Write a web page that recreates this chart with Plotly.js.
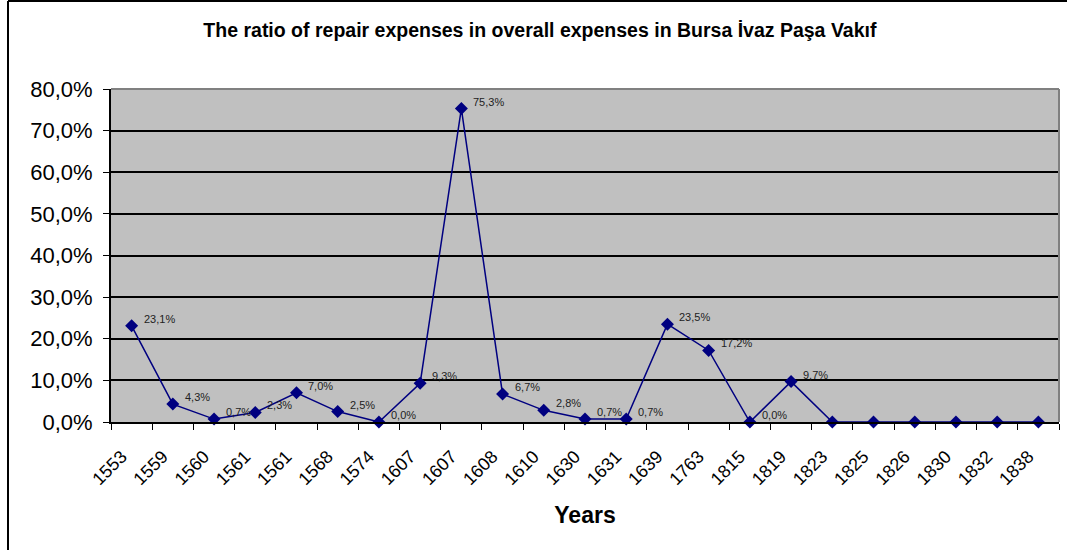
<!DOCTYPE html>
<html>
<head>
<meta charset="utf-8">
<script src="https://cdn.plot.ly/plotly-3.0.1.min.js"></script>
<style>html,body{margin:0;padding:0;background:#fff;}#chart{width:1067px;height:550px;}</style>
</head>
<body>
<div id="chart"></div>
<script>
const years = ["1553","1559","1560","1561","1561","1568","1574","1607","1607","1608","1610","1630","1631","1639","1763","1815","1819","1823","1825","1826","1830","1832","1838"];
const ratios = [23.1,4.3,0.7,2.3,7.0,2.5,0.0,9.3,75.3,6.7,2.8,0.7,0.7,23.5,17.2,0.0,9.7,0,0,0,0,0,0];
const labelCount = 17; // data labels shown for the first 17 points
const yTicks = [0,10,20,30,40,50,60,70,80];

const idx = years.map((_, i) => i);
const fmt = v => v.toFixed(1).replace('.', ',') + '%';
const boundaries = [];
for (let i = 0; i <= years.length; i++) boundaries.push(i - 0.5);

const trace = {
  x: idx, y: ratios, type: 'scatter', mode: 'lines+markers',
  line: {color: '#000080', width: 1.5},
  marker: {symbol: 'diamond', size: 10, color: '#000080'},
  cliponaxis: false, hoverinfo: 'none'
};

const annotations = ratios.slice(0, labelCount).map((v, i) => ({
  x: i, y: v, xref: 'x', yref: 'y', text: fmt(v), showarrow: false,
  xanchor: 'left', yanchor: 'middle', xshift: 10, yshift: 7,
  font: {family: 'Arial, Liberation Sans, sans-serif', size: 11, color: '#222'}
}));

const pw = 948, ph = 333, ml = 111, mt = 89;
const layout = {
  width: 1067, height: 550,
  margin: {l: ml, r: 1067 - ml - pw, t: mt, b: 550 - mt - ph},
  paper_bgcolor: '#ffffff', plot_bgcolor: '#C0C0C0',
  showlegend: false,
  title: {text: 'The ratio of repair expenses in overall expenses in Bursa İvaz Paşa Vakıf',
    font: {family: 'Arial, Liberation Sans, sans-serif', size: 19.5, color: '#000', weight: 'bold'},
    x: 0.506, xanchor: 'center', y: 0.945, yanchor: 'middle'},
  xaxis: {
    range: [-0.5, years.length - 0.5], tickmode: 'array', tickvals: idx, ticktext: years,
    tickangle: -45, ticks: '', showgrid: false, zeroline: false,
    showline: true, linecolor: '#000', linewidth: 2,
    ticklabelshift: -10, ticklabelstandoff: 15,
    tickfont: {family: 'Arial, Liberation Sans, sans-serif', size: 18, color: '#000'},
    minor: {tickmode: 'array', tickvals: boundaries, ticks: 'outside', ticklen: 6, tickcolor: '#000', tickwidth: 1, showgrid: false},
    title: {text: 'Years', font: {family: 'Arial, Liberation Sans, sans-serif', size: 23, color: '#000', weight: 'bold'}, standoff: 19}
  },
  yaxis: {
    range: [0, 80], tickmode: 'array', tickvals: yTicks,
    ticktext: yTicks.map(fmt),
    ticks: 'outside', ticklen: 6, tickcolor: '#000', tickwidth: 1,
    showgrid: true, gridcolor: '#000', gridwidth: 2, zeroline: false,
    showline: true, linecolor: '#000', linewidth: 2,
    ticklabelstandoff: 6,
    tickfont: {family: 'Arial, Liberation Sans, sans-serif', size: 22, color: '#000'}
  },
  annotations: annotations,
  shapes: [
    {type: 'line', xref: 'paper', yref: 'paper', x0: 0, x1: 1, y0: 1, y1: 1, line: {color: '#808080', width: 2}},
    {type: 'line', xref: 'paper', yref: 'paper', x0: 1, x1: 1, y0: 0, y1: 1, line: {color: '#808080', width: 2}},
    {type: 'line', xref: 'paper', yref: 'paper', x0: (8 - ml) / pw, x1: (8 - ml) / pw, y0: (mt + ph - 550) / ph, y1: (mt + ph - 1) / ph, line: {color: '#000', width: 2}},
    {type: 'line', xref: 'paper', yref: 'paper', x0: (8 - ml) / pw, x1: (1067 - ml) / pw, y0: (mt + ph - 1) / ph, y1: (mt + ph - 1) / ph, line: {color: '#000', width: 2}}
  ]
};

Plotly.newPlot('chart', [trace], layout, {displayModeBar: false, staticPlot: true});
</script>
</body>
</html>
